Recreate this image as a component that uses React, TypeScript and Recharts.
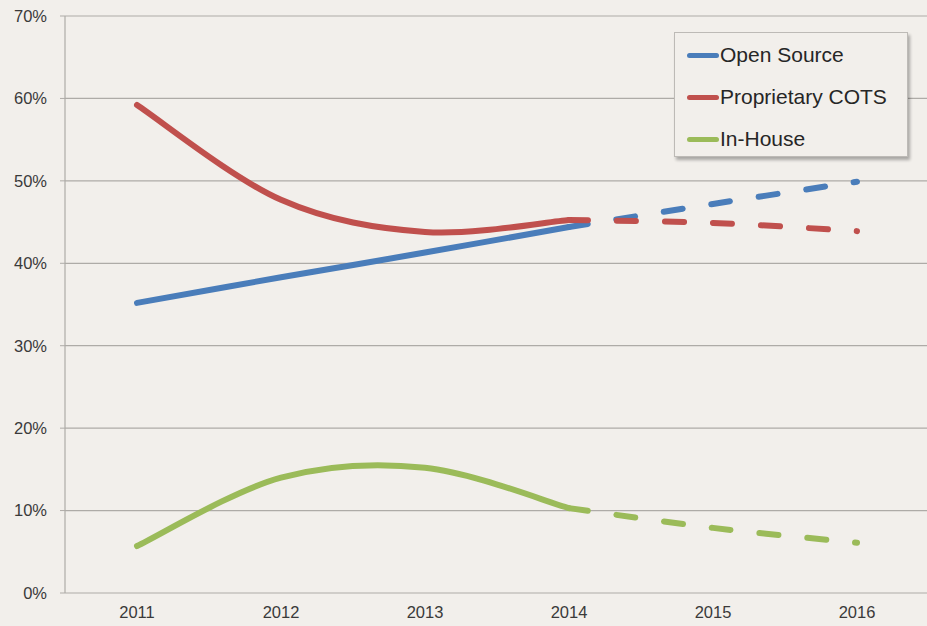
import React from 'react';
import { LineChart, Line, XAxis, YAxis, CartesianGrid } from 'recharts';

const years = ['2011', '2012', '2013', '2014', '2015', '2016'];
const slotIndex = [0.5, 1.5, 2.5, 3.5, 4.5, 5.5];
const openSourceActual = [35.2, 38.3, 41.3, 44.4, null, null];
const openSourceForecast = [null, null, null, 44.4, 47.2, 49.9];
const proprietaryActual = [59.2, 47.7, 43.8, 45.25, null, null];
const proprietaryForecast = [null, null, null, 45.25, 44.9, 43.9];
const inHouseActual = [5.7, 14.0, 15.2, 10.3, null, null];
const inHouseForecast = [null, null, null, 10.3, 7.9, 6.1];
const yTicks = [0, 10, 20, 30, 40, 50, 60, 70];
const boundaryTicks = [0, 1, 2, 3, 4, 5, 6];

const seriesNames = ['Open Source', 'Proprietary COTS', 'In-House'];
const seriesColors = ['#4a7dba', '#c0504d', '#9bbb59'];

const data = years.map((year, i) => ({
  year,
  idx: slotIndex[i],
  osA: openSourceActual[i],
  osF: openSourceForecast[i],
  prA: proprietaryActual[i],
  prF: proprietaryForecast[i],
  ihA: inHouseActual[i],
  ihF: inHouseForecast[i],
}));

// Excel-like smoothing (Catmull-Rom / cardinal tension 0)
const smoothCurve = (context: any) => {
  let pts: number[][] = [];
  return {
    areaStart() {},
    areaEnd() {},
    lineStart() {
      pts = [];
    },
    point(x: number, y: number) {
      pts.push([+x, +y]);
    },
    lineEnd() {
      const n = pts.length;
      if (n === 0) return;
      context.moveTo(pts[0][0], pts[0][1]);
      if (n === 1) return;
      if (n === 2) {
        context.lineTo(pts[1][0], pts[1][1]);
        return;
      }
      for (let i = 0; i < n - 1; i++) {
        const p0 = pts[Math.max(0, i - 1)];
        const p1 = pts[i];
        const p2 = pts[i + 1];
        const p3 = pts[Math.min(n - 1, i + 2)];
        const c1x = p1[0] + (p2[0] - p0[0]) / 6;
        const c1y = p1[1] + (p2[1] - p0[1]) / 6;
        const c2x = p2[0] - (p3[0] - p1[0]) / 6;
        const c2y = p2[1] - (p3[1] - p1[1]) / 6;
        context.bezierCurveTo(c1x, c1y, c2x, c2y, p2[0], p2[1]);
      }
    },
  };
};

const FONT = '"Liberation Sans", Arial, sans-serif';
const BG = '#f2efeb';
const GRID = '#aeaba7';

export default function App() {
  const keys = [
    ['osA', 'osF'],
    ['prA', 'prF'],
    ['ihA', 'ihF'],
  ];
  return (
    <div
      style={{
        position: 'absolute',
        left: 0,
        top: 0,
        width: 927,
        height: 626,
        background: BG,
        fontFamily: FONT,
      }}
    >
      <LineChart
        width={927}
        height={626}
        data={data}
        margin={{ top: 16, right: -2, left: 0, bottom: 0 }}
      >
        <CartesianGrid vertical={false} stroke={GRID} strokeWidth={1.2} />
        <XAxis
          xAxisId="bounds"
          type="number"
          dataKey="idx"
          domain={[0, 6]}
          ticks={boundaryTicks}
          height={0}
          tickSize={5}
          tickFormatter={() => ''}
          axisLine={{ stroke: GRID, strokeWidth: 1.2 }}
          tickLine={{ stroke: GRID }}
        />
        <XAxis
          dataKey="year"
          scale="band"
          height={33}
          tickSize={0}
          tickMargin={13}
          axisLine={false}
          tickLine={false}
          tick={{ fill: '#3a3a3a', fontSize: 16.5, fontFamily: FONT }}
        />
        <YAxis
          width={65}
          domain={[0, 70]}
          ticks={yTicks}
          interval={0}
          tickFormatter={(v: number) => `${v}%`}
          tickSize={5}
          tickMargin={13}
          axisLine={{ stroke: GRID, strokeWidth: 1.2 }}
          tickLine={{ stroke: GRID }}
          tick={{ fill: '#3a3a3a', fontSize: 16.5, fontFamily: FONT }}
        />
        {keys.map(([a, f], i) => (
          <Line
            key={f}
            dataKey={f}
            type={smoothCurve as any}
            stroke={seriesColors[i]}
            strokeWidth={6}
            strokeLinecap="round"
            strokeDasharray="19 29"
            dot={false}
            activeDot={false}
            isAnimationActive={false}
          />
        ))}
        {keys.map(([a, f], i) => (
          <Line
            key={a}
            dataKey={a}
            type={smoothCurve as any}
            stroke={seriesColors[i]}
            strokeWidth={6}
            strokeLinecap="round"
            dot={false}
            activeDot={false}
            isAnimationActive={false}
          />
        ))}
      </LineChart>
      <div
        style={{
          position: 'absolute',
          left: 674,
          top: 32,
          width: 234,
          height: 125,
          background: BG,
          border: '1px solid #bdbab6',
          boxShadow: '2px 3px 3px rgba(0,0,0,0.3)',
          paddingTop: 1,
          boxSizing: 'border-box',
        }}
      >
        {seriesNames.map((name, i) => (
          <div
            key={name}
            style={{
              height: 42,
              display: 'flex',
              alignItems: 'center',
              fontSize: 21,
              color: '#262626',
              fontFamily: FONT,
            }}
          >
            <div
              style={{
                marginLeft: 12,
                width: 32,
                height: 5,
                borderRadius: 3,
                background: seriesColors[i],
                marginRight: 1,
              }}
            />
            <span>{name}</span>
          </div>
        ))}
      </div>
    </div>
  );
}
